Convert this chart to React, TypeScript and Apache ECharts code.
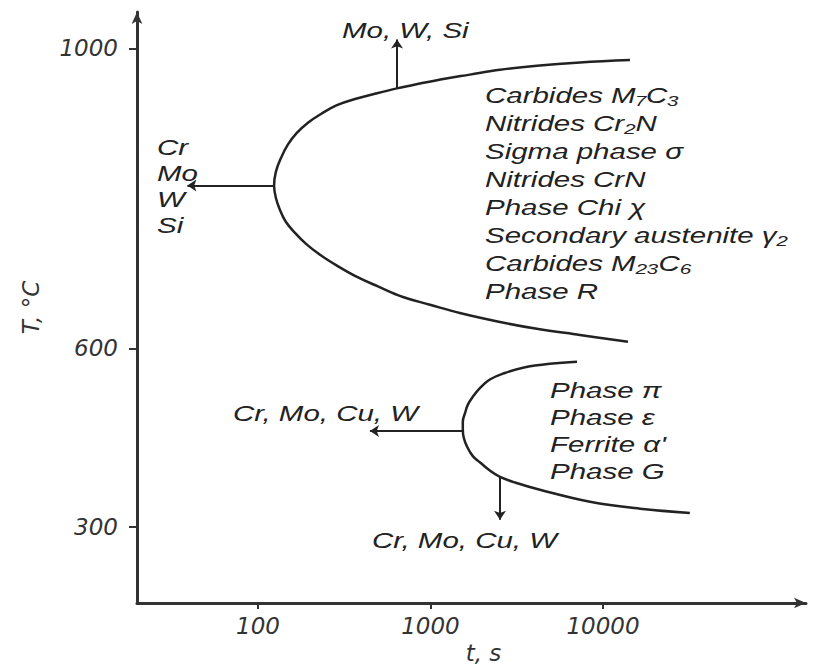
import { useEffect, useRef } from 'react';
import * as echarts from 'echarts';

// ---- axes (time in s on a log scale, temperature in °C on a schematic power scale)
const X_TICKS = [100, 1000, 10000];
const Y_TICKS = [300, 600, 1000];
const X_RANGE = [19.9, 150300];
const Y_RANGE = [127, 1044];
const X_NAME = 't, s';
const Y_NAME = 'T, °C';

// ---- upper C-curve (t in s, T in °C), from the upper end round the nose to the lower end
const UPPER_TIME = [14340, 7360, 4140, 2530, 1690, 1210, 869, 639, 490, 370, 287, 232, 195, 168, 149, 136, 127, 124, 127, 134, 145, 164, 190, 229, 287, 370, 496, 693, 993, 1480, 2530, 4140, 7360, 13960];
const UPPER_TEMP = [986, 983, 979, 974, 968, 963, 957, 951, 945, 938, 930, 919, 908, 895, 880, 863, 845, 827, 811, 795, 779, 764, 749, 734, 719, 704, 690, 675, 664, 652, 639, 629, 620, 610];

// ---- lower C-curve
const LOWER_TIME = [7070, 4930, 3440, 2700, 2210, 1940, 1760, 1650, 1590, 1540, 1540, 1560, 1630, 1760, 1940, 2210, 2530, 3090, 4310, 8410, 16400, 31900];
const LOWER_TEMP = [580, 577, 571, 563, 553, 540, 526, 514, 501, 486, 473, 460, 445, 429, 418, 404, 393, 383, 370, 348, 335, 327];

// ---- arrows: [t0, T0, t1, T1]
const ARROWS = [
  [640, 951, 640, 1011],
  [124, 827, 39, 827],
  [1540, 471, 446, 471],
  [2530, 393, 2530, 314],
];

// ---- texts
const TOP_ELEMENTS = 'Mo, W, Si';
const LEFT_ELEMENTS = ['Cr', 'Mo', 'W', 'Si'];
const HIGH_PHASES = [
  'Carbides M₇C₃',
  'Nitrides Cr₂N',
  'Sigma phase σ',
  'Nitrides CrN',
  'Phase Chi χ',
  'Secondary austenite γ₂',
  'Carbides M₂₃C₆',
  'Phase R',
];
const LOW_PHASES = ['Phase π', 'Phase ε', "Ferrite α'", 'Phase G'];
const LOW_ELEMENTS = 'Cr, Mo, Cu, W';

const lg = (t: number) => Math.log10(t);
const pw = (T: number) => Math.pow(T, 1.4);
const unpw = (v: number) => Math.pow(v, 1 / 1.4);

const INK = '#222';
const AXIS = '#333';
const ANNOT_FONT = 'italic 22px "Liberation Sans", Arial, sans-serif';
const SX = 1.34;

function txt(text: string, x: number, y: number) {
  return {
    type: 'text',
    x,
    y,
    scaleX: SX,
    silent: true,
    style: {
      text,
      font: ANNOT_FONT,
      fill: INK,
      align: 'left',
      verticalAlign: 'middle',
    },
  };
}

export default function App() {
  const ref = useRef<HTMLDivElement>(null);
  useEffect(() => {
    if (!ref.current) return;
    const chart = echarts.init(ref.current, null, { renderer: 'svg' });

    const upper = UPPER_TIME.map((t, i) => [lg(t), pw(UPPER_TEMP[i])]);
    const lower = LOWER_TIME.map((t, i) => [lg(t), pw(LOWER_TEMP[i])]);
    const arrows = ARROWS.map((a) => ({ coords: [[lg(a[0]), pw(a[1])], [lg(a[2]), pw(a[3])]] }));

    const graphics: any[] = [];
    graphics.push(txt(TOP_ELEMENTS, 342, 30));
    LEFT_ELEMENTS.forEach((s, i) => graphics.push(txt(s, 157, 147 + i * 26)));
    HIGH_PHASES.forEach((s, i) => graphics.push(txt(s, 485, 95 + i * 28)));
    LOW_PHASES.forEach((s, i) => graphics.push(txt(s, 550, 390 + i * 27)));
    graphics.push(txt(LOW_ELEMENTS, 233, 413));
    graphics.push(txt(LOW_ELEMENTS, 372, 540));

    const labelStyle = {
      fontFamily: '"DejaVu Sans", sans-serif',
      fontStyle: 'italic',
      fontSize: 23,
      color: AXIS,
    };

    chart.setOption({
      animation: false,
      backgroundColor: '#fff',
      grid: { left: 137, right: 11, top: 12, bottom: 63, outerBoundsMode: 'none', containLabel: false },
      xAxis: {
        type: 'value',
        min: lg(X_RANGE[0]),
        max: lg(X_RANGE[1]),
        name: X_NAME,
        nameLocation: 'middle',
        nameGap: 38,
        nameTextStyle: { ...labelStyle, padding: [0, 0, 0, 24] },
        axisLine: { show: true, onZero: false, symbol: ['none', 'arrow'], symbolSize: [8, 12], lineStyle: { color: AXIS, width: 3 } },
        axisTick: { show: true, length: 6, customValues: X_TICKS.map(lg), lineStyle: { color: AXIS, width: 2 } },
        axisLabel: {
          ...labelStyle,
          margin: 11,
          customValues: X_TICKS.map(lg),
          formatter: (v: number) => String(Math.round(Math.pow(10, v))),
        },
        splitLine: { show: false },
      },
      yAxis: {
        type: 'value',
        min: pw(Y_RANGE[0]),
        max: pw(Y_RANGE[1]),
        name: Y_NAME,
        nameLocation: 'middle',
        nameRotate: 90,
        nameGap: 95,
        nameTextStyle: { ...labelStyle },
        axisLine: { show: true, onZero: false, symbol: ['none', 'arrow'], symbolSize: [8, 12], lineStyle: { color: AXIS, width: 3 } },
        axisTick: { show: true, length: 8, customValues: Y_TICKS.map(pw), lineStyle: { color: AXIS, width: 2 } },
        axisLabel: {
          ...labelStyle,
          margin: 19,
          customValues: Y_TICKS.map(pw),
          formatter: (v: number) => String(Math.round(unpw(v))),
        },
        splitLine: { show: false },
      },
      series: [
        {
          type: 'line',
          data: upper,
          smooth: 0.4,
          symbol: 'none',
          lineStyle: { color: INK, width: 2.5 },
          silent: true,
        },
        {
          type: 'line',
          data: lower,
          smooth: 0.4,
          symbol: 'none',
          lineStyle: { color: INK, width: 2.5 },
          silent: true,
        },
        {
          type: 'lines',
          coordinateSystem: 'cartesian2d',
          data: arrows,
          symbol: ['none', 'arrow'],
          symbolSize: 9,
          lineStyle: { color: INK, width: 2, opacity: 1 },
          silent: true,
        },
      ],
      graphic: graphics,
    });
    return () => chart.dispose();
  }, []);
  return <div ref={ref} style={{ position: 'absolute', left: 0, top: 0, width: 817, height: 666 }} />;
}
